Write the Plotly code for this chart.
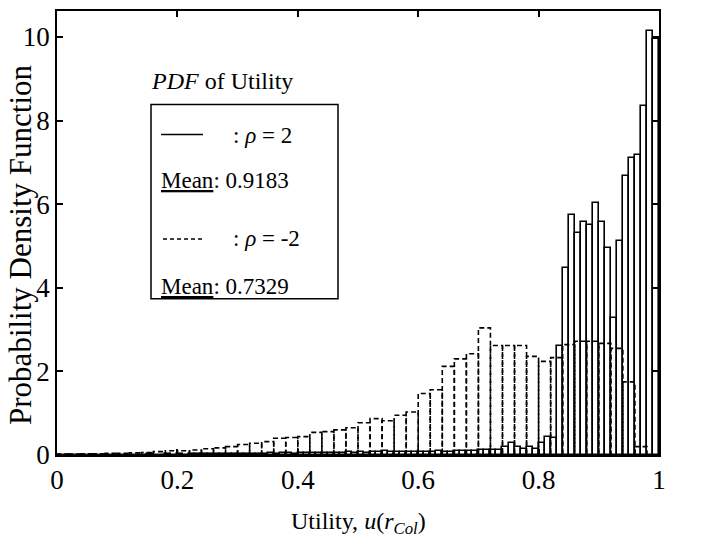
import plotly.graph_objects as go

# ---------------- data ----------------
# rho = 2 : bins of width 0.01 (left edges 0.00 ... 0.99)
solid_bin_width = 0.01
solid_pdf = [
    0.01, 0.01, 0.00, 0.01, 0.01, 0.01, 0.00, 0.01, 0.01, 0.01,
    0.01, 0.01, 0.01, 0.01, 0.01, 0.02, 0.01, 0.01, 0.02, 0.01,
    0.02, 0.01, 0.02, 0.02, 0.02, 0.02, 0.03, 0.02, 0.02, 0.03,
    0.03, 0.03, 0.02, 0.03, 0.03, 0.04, 0.03, 0.04, 0.04, 0.03,
    0.04, 0.04, 0.05, 0.04, 0.05, 0.05, 0.04, 0.05, 0.06, 0.05,
    0.06, 0.05, 0.06, 0.07, 0.10, 0.06, 0.07, 0.06, 0.07, 0.08,
    0.07, 0.08, 0.08, 0.10, 0.06, 0.06, 0.10, 0.10, 0.10, 0.10,
    0.13, 0.13, 0.13, 0.13, 0.20, 0.29, 0.20, 0.15, 0.20, 0.15,
    0.29, 0.43, 0.40, 2.60, 4.47, 5.75, 5.32, 5.57, 5.50, 6.02,
    5.57, 4.95, 3.27, 5.13, 6.67, 7.10, 7.17, 8.35, 10.13, 9.95,
]

# rho = -2 : bins of width 0.02 (left edges 0.00 ... 0.98)
dashed_bin_width = 0.02
dashed_pdf = [
    0.02, 0.02, 0.03, 0.03, 0.04, 0.04, 0.05, 0.06, 0.08, 0.10,
    0.10, 0.12, 0.15, 0.17, 0.20, 0.25, 0.28, 0.32, 0.40, 0.42,
    0.44, 0.54, 0.56, 0.60, 0.65, 0.77, 0.87, 0.82, 0.95, 1.03,
    1.47, 1.56, 2.12, 2.30, 2.42, 3.04, 2.62, 2.62, 2.62, 2.36,
    2.24, 2.33, 2.64, 2.72, 2.72, 2.67, 2.55, 1.75, 0.20, 0.00,
]

x_ticks = [0, 0.2, 0.4, 0.6, 0.8, 1.0]
x_tick_labels = ["0", "0.2", "0.4", "0.6", "0.8", "1"]
y_ticks = [0, 2, 4, 6, 8, 10]
y_tick_labels = ["0", "2", "4", "6", "8", "10"]

legend_title = "<i>PDF</i> of Utility"
legend_rows = [": <i>ρ</i> = 2", "<u>Mean</u>: 0.9183", ": <i>ρ</i> = -2", "<u>Mean</u>: 0.7329"]

# ---------------- figure ----------------
FONT = "Liberation Serif, Times New Roman, serif"
FS_TICK = 27
FS_XT = 24
FS_YT = 31
FS_LEG = 23

W, H = 707, 546
L, R, T, B = 49, 56, 1, 99
PW, PH = W - L - R, H - T - B


def px(x):
    return (x - L) / PW


def py(y):
    return (H - B - y) / PH


fig = go.Figure()

solid_centers = [i * solid_bin_width + solid_bin_width / 2 for i in range(len(solid_pdf))]
fig.add_trace(go.Bar(
    x=solid_centers, y=solid_pdf, width=solid_bin_width,
    marker=dict(color="rgba(0,0,0,0)", line=dict(color="black", width=1.6)),
    showlegend=False, hoverinfo="skip",
))

dx, dy = [], []
for i, v in enumerate(dashed_pdf):
    x0 = i * dashed_bin_width
    x1 = x0 + dashed_bin_width
    dx += [x0, x0, x1, x1, None]
    dy += [0, v, v, 0, None]
fig.add_trace(go.Scatter(
    x=dx, y=dy, mode="lines",
    line=dict(color="black", width=1.6, dash="5px,3px"),
    showlegend=False, hoverinfo="skip",
))

axis_common = dict(
    showline=True, linecolor="black", linewidth=1.5, mirror="ticks",
    ticks="inside", ticklen=6, tickwidth=1.5, tickcolor="black",
    showgrid=False, zeroline=False,
    tickfont=dict(family=FONT, size=FS_TICK, color="black"),
)

fig.update_layout(
    width=W, height=H,
    margin=dict(l=L, r=R, t=T, b=B),
    paper_bgcolor="white", plot_bgcolor="white",
    font=dict(family=FONT, size=FS_TICK, color="black"),
    bargap=0, barmode="overlay",
    xaxis=dict(range=[0, 1], tickvals=x_ticks, ticktext=x_tick_labels,
               ticklabelstandoff=0, **axis_common),
    yaxis=dict(range=[0, 10.62], tickvals=y_ticks, ticktext=y_tick_labels,
               ticklabelstandoff=0, **axis_common),
)

ann = []
ann.append(dict(text="Utility, <i>u</i>(<i>r</i><sub><i>Col</i></sub>)",
                x=px(350), y=py(515), xref="paper", yref="paper",
                xanchor="center", yanchor="middle", showarrow=False,
                font=dict(family=FONT, size=FS_XT, color="black")))
ann.append(dict(text="Probability Density Function", textangle=-90,
                x=px(13), y=py(236), xref="paper", yref="paper",
                xanchor="center", yanchor="middle", showarrow=False,
                font=dict(family=FONT, size=FS_YT, color="black")))
ann.append(dict(text=legend_title, x=px(141), y=py(71), xref="paper", yref="paper",
                xanchor="left", yanchor="middle", showarrow=False,
                font=dict(family=FONT, size=FS_LEG + 1, color="black")))
row_pos = [(223, 126), (151, 171), (223, 230), (151, 278)]
for txt, (xx, yy) in zip(legend_rows, row_pos):
    ann.append(dict(text=txt, x=px(xx), y=py(yy), xref="paper", yref="paper",
                    xanchor="left", yanchor="middle", showarrow=False,
                    font=dict(family=FONT, size=FS_LEG, color="black")))
fig.update_layout(annotations=ann)

shapes = [
    dict(type="rect", xref="paper", yref="paper",
         x0=px(143), x1=px(330), y0=py(290), y1=py(95),
         line=dict(color="black", width=1.5), fillcolor="rgba(0,0,0,0)"),
    dict(type="line", xref="paper", yref="paper",
         x0=px(153), x1=px(195), y0=py(125), y1=py(125),
         line=dict(color="black", width=1.6)),
    dict(type="line", xref="paper", yref="paper",
         x0=px(155), x1=px(195), y0=py(230), y1=py(230),
         line=dict(color="black", width=1.6, dash="4px,3px")),
]
fig.update_layout(shapes=shapes)

fig.write_html("out.html")
